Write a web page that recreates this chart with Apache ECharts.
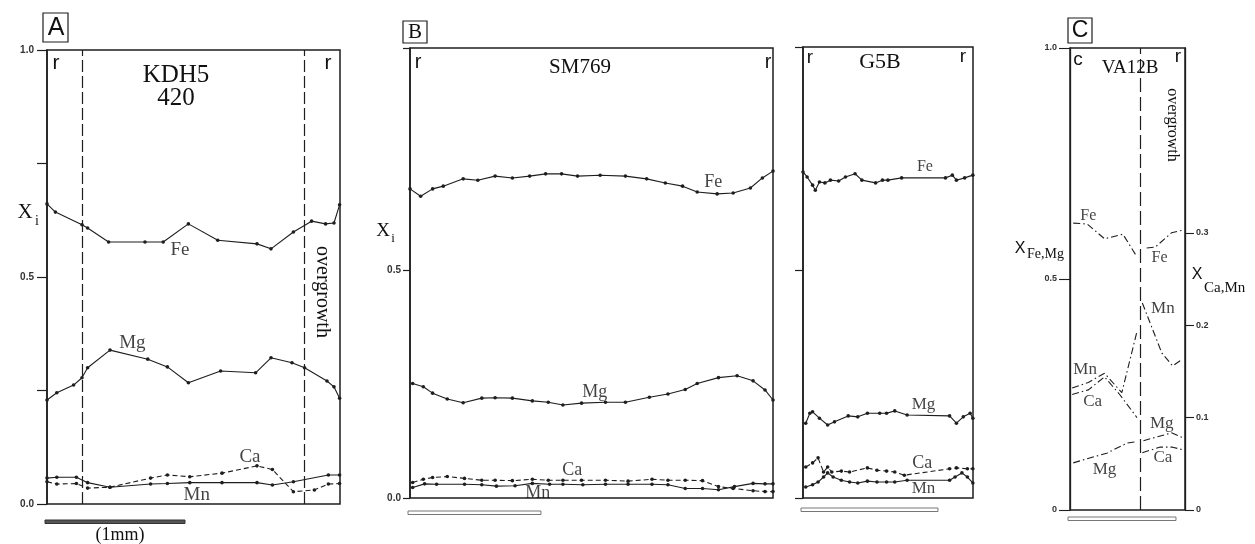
<!DOCTYPE html>
<html><head><meta charset="utf-8">
<script src="https://cdn.jsdelivr.net/npm/echarts@6/dist/echarts.min.js"></script>
<style>html,body{margin:0;padding:0;background:#fff}#c{width:1255px;height:544px}</style>
</head><body><div id="c"></div>
<script>
// ---------- DATA (x = distance along traverse, mm; y = mole fraction) ----------
// Panel A : KDH5 420
const aFeX = [0, 0.06, 0.25, 0.29, 0.44, 0.70, 0.83, 1.01, 1.22, 1.50, 1.60, 1.76, 1.89, 1.99, 2.05, 2.09];
const aFeY = [0.661, 0.643, 0.615, 0.608, 0.577, 0.577, 0.577, 0.617, 0.581, 0.573, 0.562, 0.599, 0.623, 0.617, 0.619, 0.659];
const aMgX = [0, 0.07, 0.19, 0.25, 0.29, 0.45, 0.72, 0.86, 1.01, 1.24, 1.49, 1.60, 1.75, 1.84, 2.00, 2.05, 2.09];
const aMgY = [0.229, 0.245, 0.262, 0.278, 0.300, 0.339, 0.319, 0.302, 0.267, 0.293, 0.289, 0.322, 0.311, 0.300, 0.271, 0.258, 0.233];
const aMnX = [0, 0.07, 0.21, 0.29, 0.45, 0.74, 0.86, 1.02, 1.25, 1.50, 1.61, 1.76, 2.01, 2.09];
const aMnY = [0.057, 0.059, 0.059, 0.047, 0.037, 0.044, 0.045, 0.047, 0.047, 0.047, 0.042, 0.049, 0.064, 0.064];
const aCaX = [0, 0.07, 0.21, 0.29, 0.45, 0.74, 0.86, 1.02, 1.25, 1.50, 1.61, 1.76, 1.91, 2.01, 2.09];
const aCaY = [0.049, 0.044, 0.045, 0.035, 0.037, 0.057, 0.064, 0.060, 0.068, 0.084, 0.076, 0.027, 0.031, 0.044, 0.045];
const aRimLines = [0.25, 1.84];

// Panel B : SM769
const bFeX = [0, 0.08, 0.17, 0.25, 0.40, 0.51, 0.64, 0.77, 0.90, 1.02, 1.14, 1.26, 1.43, 1.62, 1.78, 1.92, 2.05, 2.16, 2.31, 2.43, 2.56, 2.65, 2.73];
const bFeY = [0.678, 0.662, 0.678, 0.684, 0.700, 0.697, 0.706, 0.702, 0.706, 0.711, 0.711, 0.706, 0.708, 0.706, 0.700, 0.691, 0.684, 0.671, 0.667, 0.669, 0.680, 0.702, 0.717];
const bMgX = [0.02, 0.10, 0.17, 0.28, 0.40, 0.54, 0.64, 0.77, 0.92, 1.04, 1.15, 1.29, 1.47, 1.62, 1.80, 1.94, 2.07, 2.16, 2.32, 2.46, 2.58, 2.67, 2.73];
const bMgY = [0.251, 0.244, 0.230, 0.217, 0.209, 0.219, 0.220, 0.219, 0.213, 0.210, 0.204, 0.208, 0.210, 0.210, 0.221, 0.228, 0.238, 0.251, 0.264, 0.268, 0.257, 0.237, 0.215];
const bCaX = [0.02, 0.10, 0.17, 0.28, 0.41, 0.54, 0.64, 0.77, 0.92, 1.04, 1.15, 1.29, 1.47, 1.64, 1.82, 1.94, 2.07, 2.20, 2.32, 2.43, 2.58, 2.67, 2.73];
const bCaY = [0.034, 0.041, 0.045, 0.047, 0.043, 0.039, 0.039, 0.038, 0.041, 0.039, 0.039, 0.039, 0.039, 0.037, 0.041, 0.039, 0.039, 0.038, 0.025, 0.021, 0.016, 0.014, 0.014];
const bMnX = [0.02, 0.11, 0.20, 0.41, 0.54, 0.65, 0.79, 0.92, 1.05, 1.15, 1.30, 1.47, 1.64, 1.82, 1.94, 2.07, 2.20, 2.32, 2.44, 2.58, 2.67, 2.73];
const bMnY = [0.023, 0.031, 0.030, 0.030, 0.029, 0.026, 0.027, 0.032, 0.030, 0.030, 0.029, 0.030, 0.030, 0.030, 0.029, 0.021, 0.021, 0.018, 0.025, 0.032, 0.031, 0.031];

// Panel B : G5B
const gFeX = [0, 0.03, 0.07, 0.09, 0.12, 0.16, 0.20, 0.26, 0.31, 0.38, 0.43, 0.53, 0.58, 0.62, 0.72, 1.04, 1.09, 1.12, 1.18, 1.24];
const gFeY = [0.715, 0.704, 0.686, 0.675, 0.693, 0.691, 0.697, 0.695, 0.704, 0.711, 0.697, 0.691, 0.697, 0.697, 0.702, 0.702, 0.708, 0.697, 0.702, 0.708];
const gMgX = [0.02, 0.05, 0.07, 0.12, 0.18, 0.23, 0.33, 0.40, 0.47, 0.56, 0.61, 0.67, 0.76, 1.07, 1.12, 1.17, 1.22, 1.24];
const gMgY = [0.164, 0.186, 0.189, 0.175, 0.160, 0.167, 0.180, 0.178, 0.186, 0.186, 0.186, 0.191, 0.182, 0.180, 0.164, 0.178, 0.186, 0.175];
const gCaX = [0.02, 0.07, 0.11, 0.15, 0.18, 0.21, 0.28, 0.34, 0.47, 0.54, 0.61, 0.67, 0.74, 1.07, 1.12, 1.20, 1.24];
const gCaY = [0.068, 0.077, 0.088, 0.057, 0.068, 0.057, 0.059, 0.057, 0.066, 0.061, 0.059, 0.057, 0.050, 0.064, 0.066, 0.064, 0.064];
const gMnX = [0.02, 0.07, 0.11, 0.15, 0.18, 0.22, 0.28, 0.34, 0.40, 0.47, 0.54, 0.61, 0.67, 0.76, 1.07, 1.11, 1.16, 1.20, 1.24];
const gMnY = [0.024, 0.029, 0.035, 0.046, 0.055, 0.046, 0.039, 0.035, 0.033, 0.037, 0.035, 0.035, 0.035, 0.039, 0.039, 0.046, 0.055, 0.046, 0.033];

// Panel C : VA12B (core part | overgrowth). Fe, Mg on left axis; Ca, Mn on right axis
const cFe1X = [0.03, 0.16, 0.32, 0.49, 0.62], cFe1Y = [0.621, 0.619, 0.587, 0.597, 0.548];
const cFe2X = [0.71, 0.79, 0.94, 1.05],       cFe2Y = [0.567, 0.569, 0.600, 0.606];
const cMg1X = [0.03, 0.19, 0.34, 0.53, 0.62], cMg1Y = [0.102, 0.113, 0.123, 0.145, 0.148];
const cMg2X = [0.68, 0.94, 1.05],             cMg2Y = [0.150, 0.167, 0.156];
const cMn1X = [0.02, 0.17, 0.32, 0.48, 0.62], cMn1Y = [0.132, 0.138, 0.148, 0.127, 0.193];
const cMn2X = [0.67, 0.85, 0.95, 1.04],       cMn2Y = [0.224, 0.170, 0.156, 0.163];
const cCa1X = [0.02, 0.17, 0.32, 0.46, 0.62], cCa1Y = [0.125, 0.130, 0.144, 0.125, 0.100];
const cCa2X = [0.67, 0.83, 0.95, 1.05],       cCa2Y = [0.062, 0.068, 0.068, 0.065];
const cOvergrowthLine = [0.65];

// traverse lengths (mm) and scale bar length (mm)
const traverseMM = [2.093, 2.73, 1.241, 1.065];
const scaleBarMM = 1;

// tick labels
const aTicks = {0: '0.0', 0.5: '0.5', 1: '1.0'};
const bTicks = {0: '0.0', 0.5: '0.5'};
const cLeftTicks = {0: '0', 0.5: '0.5', 1: '1.0'};
const cRightTicks = {0: '0', 0.1: '0.1', 0.2: '0.2', 0.3: '0.3'};

// ---------- CHART ----------
const ink = '#1e1e1e';
const serif = '"Liberation Serif","DejaVu Serif",serif';
const sans = '"Liberation Sans","DejaVu Sans",sans-serif';
const pts = (xs, ys) => xs.map((x, i) => [x, ys[i]]);

const gridBoxes = [
  {left: 47, top: 50, width: 293, height: 454},
  {left: 410, top: 48, width: 363, height: 450},
  {left: 803, top: 47, width: 170, height: 451},
  {left: 1070, top: 48, width: 115, height: 462}
];
const grids = gridBoxes.map(g => Object.assign({show: true, borderColor: ink, borderWidth: 1.5, backgroundColor: 'transparent'}, g));

const xAxes = traverseMM.map((w, i) => ({type: 'value', gridIndex: i, min: 0, max: w, show: false}));

const numLabel = (map, margin, extra) => Object.assign({
  show: true, margin: margin, fontSize: 10, fontWeight: 'bold', fontFamily: sans, color: '#333',
  formatter: v => (map[v] !== undefined ? map[v] : '')
}, extra || {});

const yAxes = [
  {type: 'value', gridIndex: 0, min: 0, max: 1, interval: 0.25,
   axisLine: {show: true, lineStyle: {color: ink, width: 1.5}},
   axisTick: {show: true, length: 10, lineStyle: {color: ink, width: 1.2}},
   axisLabel: numLabel(aTicks, 13), splitLine: {show: false}},
  {type: 'value', gridIndex: 1, min: 0, max: 0.987, interval: 0.5,
   axisLine: {show: true, lineStyle: {color: ink, width: 1.5}},
   axisTick: {show: true, length: 7, customValues: [0, 0.5, 0.987], lineStyle: {color: ink, width: 1.2}},
   axisLabel: numLabel(bTicks, 9, {customValues: [0, 0.5]}), splitLine: {show: false}},
  {type: 'value', gridIndex: 2, min: 0, max: 0.989, interval: 0.5,
   axisLine: {show: true, lineStyle: {color: ink, width: 1.5}},
   axisTick: {show: true, length: 8, customValues: [0, 0.5, 0.989], lineStyle: {color: ink, width: 1.2}},
   axisLabel: {show: false}, splitLine: {show: false}},
  {type: 'value', gridIndex: 3, min: 0, max: 1, interval: 0.5,
   axisLine: {show: true, lineStyle: {color: ink, width: 1.3}},
   axisTick: {show: true, length: 11, lineStyle: {color: ink, width: 1.1}},
   axisLabel: numLabel(cLeftTicks, 13, {fontSize: 9}), splitLine: {show: false}},
  {type: 'value', gridIndex: 3, position: 'right', min: 0, max: 0.5, interval: 0.1,
   axisLine: {show: true, lineStyle: {color: ink, width: 1.3}},
   axisTick: {show: true, length: 9, customValues: [0, 0.1, 0.2, 0.3], lineStyle: {color: ink, width: 1.1}},
   axisLabel: numLabel(cRightTicks, 11, {fontSize: 9, customValues: [0, 0.1, 0.2, 0.3]}), splitLine: {show: false}}
];

function prof(xi, yi, xs, ys, dashed, extra) {
  return Object.assign({
    type: 'line', xAxisIndex: xi, yAxisIndex: yi, data: pts(xs, ys),
    symbol: 'circle', symbolSize: 3.6, showSymbol: true,
    itemStyle: {color: ink}, lineStyle: {color: ink, width: 1.1, type: dashed ? [5, 3] : 'solid'},
    silent: true, z: 3
  }, extra || {});
}
function cProf(yi, xs, ys) {
  return {type: 'line', xAxisIndex: 3, yAxisIndex: yi, data: pts(xs, ys), showSymbol: false, symbol: 'none',
    lineStyle: {color: ink, width: 1.1, type: [7, 3, 1.5, 3]}, silent: true, z: 3};
}
const vLines = (vals, dash) => ({silent: true, symbol: 'none', animation: false, label: {show: false},
  lineStyle: {type: dash, color: ink, width: 1.2}, data: vals.map(v => ({xAxis: v}))});

// text annotations [text, x(mm), y(value), size] on each grid (C in left-axis units)
const annA = [['Fe', 0.95, 0.559, 19], ['Mg', 0.61, 0.355, 19], ['Ca', 1.45, 0.104, 19], ['Mn', 1.07, 0.020, 19]];
const annB = [['Fe', 2.28, 0.693, 18], ['Mg', 1.39, 0.232, 18], ['Ca', 1.22, 0.061, 18], ['Mn', 0.96, 0.011, 18]];
const annG = [['Fe', 0.89, 0.726, 16], ['Mg', 0.88, 0.204, 17], ['Ca', 0.87, 0.077, 18], ['Mn', 0.88, 0.020, 17]];
const annC = [['Fe', 0.17, 0.636, 16], ['Fe', 0.83, 0.545, 16], ['Mn', 0.86, 0.437, 17], ['Mn', 0.14, 0.303, 17],
              ['Ca', 0.21, 0.234, 17], ['Mg', 0.85, 0.188, 17], ['Ca', 0.86, 0.113, 17], ['Mg', 0.32, 0.087, 17]];
const annSeries = (ann, gi) => ({
  type: 'scatter', xAxisIndex: gi, yAxisIndex: gi, symbol: 'circle', symbolSize: 1, silent: true, z: 4,
  itemStyle: {color: 'rgba(0,0,0,0)'},
  data: ann.map(a => ({name: a[0], value: [a[1], a[2]],
    label: {show: true, position: 'inside', formatter: a[0], fontFamily: serif, fontSize: a[3], color: '#111'}}))
});

const series = [
  prof(0, 0, aFeX, aFeY, false, {markLine: vLines(aRimLines, [12, 4])}),
  prof(0, 0, aMgX, aMgY, false),
  prof(0, 0, aMnX, aMnY, false),
  prof(0, 0, aCaX, aCaY, true),
  prof(1, 1, bFeX, bFeY, false),
  prof(1, 1, bMgX, bMgY, false),
  prof(1, 1, bCaX, bCaY, true),
  prof(1, 1, bMnX, bMnY, false),
  prof(2, 2, gFeX, gFeY, false),
  prof(2, 2, gMgX, gMgY, false),
  prof(2, 2, gCaX, gCaY, true),
  prof(2, 2, gMnX, gMnY, false),
  Object.assign(cProf(3, cFe1X, cFe1Y), {markLine: vLines(cOvergrowthLine, [14, 5])}),
  cProf(3, cFe2X, cFe2Y),
  cProf(3, cMg1X, cMg1Y),
  cProf(3, cMg2X, cMg2Y),
  cProf(4, cMn1X, cMn1Y),
  cProf(4, cMn2X, cMn2Y),
  cProf(4, cCa1X, cCa1Y),
  cProf(4, cCa2X, cCa2Y),
  annSeries(annA, 0), annSeries(annB, 1), annSeries(annG, 2), annSeries(annC, 3)
];

const T = (text, x, y, size, family, extra, align) => Object.assign({type: 'text', x: x, y: y, z: 10,
  style: {text: text, fontSize: size, fontFamily: family, fill: '#111', align: align || 'center', verticalAlign: 'middle'}}, extra || {});
const boxR = (x, y, w, h) => ({type: 'rect', z: 10, shape: {x: x, y: y, width: w, height: h}, style: {fill: 'none', stroke: ink, lineWidth: 1.2}});

const baseGraphic = [
  boxR(43, 13, 25, 29), T('A', 56, 28, 25, sans),
  boxR(403, 21, 24, 22), T('B', 415, 32, 21, serif),
  boxR(1068, 18, 24, 25), T('C', 1080, 31, 23, sans),
  T('KDH5', 176, 75, 25, serif), T('420', 176, 98, 25, serif),
  T('SM769', 580, 67, 21, serif), T('G5B', 880, 62, 22, serif), T('VA12B', 1130, 68, 19, serif),
  T('r', 56, 63, 21, sans), T('r', 328, 63, 21, sans),
  T('r', 418, 62, 20, sans), T('r', 768, 62, 20, sans),
  T('r', 810, 58, 19, sans), T('r', 963, 57, 19, sans),
  T('c', 1078, 60, 19, sans), T('r', 1178, 57, 19, sans),
  T('overgrowth', 322, 292, 20, serif, {rotation: -Math.PI / 2}),
  T('overgrowth', 1172, 125, 16, serif, {rotation: -Math.PI / 2}),
  T('X', 25, 212, 21, serif), T('i', 37, 221, 14, serif),
  T('X', 383, 231, 19, serif), T('i', 393, 239, 13, serif),
  T('X', 1020, 249, 16, sans), T('Fe,Mg', 1027, 254, 14, serif, null, 'left'),
  T('X', 1197, 275, 16, sans), T('Ca,Mn', 1204, 288, 15, serif, null, 'left'),
  T('(1mm)', 120, 535, 18, serif)
];

const chart = echarts.init(document.getElementById('c'), null, {renderer: 'canvas'});
chart.setOption({
  animation: false, backgroundColor: '#fff',
  grid: grids, xAxis: xAxes, yAxis: yAxes, series: series, graphic: baseGraphic
});

// scale bars (1 mm) placed through each panel's own x scale
const barSpec = [{g: 0, off: 16, solid: true}, {g: 1, off: 13}, {g: 2, off: 10}, {g: 3, off: 7}];
const bars = barSpec.map(b => {
  const p0 = chart.convertToPixel({xAxisIndex: b.g, yAxisIndex: b.g}, [0, 0]);
  const p1 = chart.convertToPixel({xAxisIndex: b.g, yAxisIndex: b.g}, [scaleBarMM, 0]);
  return {type: 'rect', z: 10, shape: {x: p0[0] - 2, y: p0[1] + b.off, width: p1[0] - p0[0], height: 3.5},
    style: {fill: b.solid ? '#555' : '#fff', stroke: b.solid ? '#333' : '#777', lineWidth: 1}};
});
chart.setOption({graphic: baseGraphic.concat(bars)});
</script>
</body></html>
